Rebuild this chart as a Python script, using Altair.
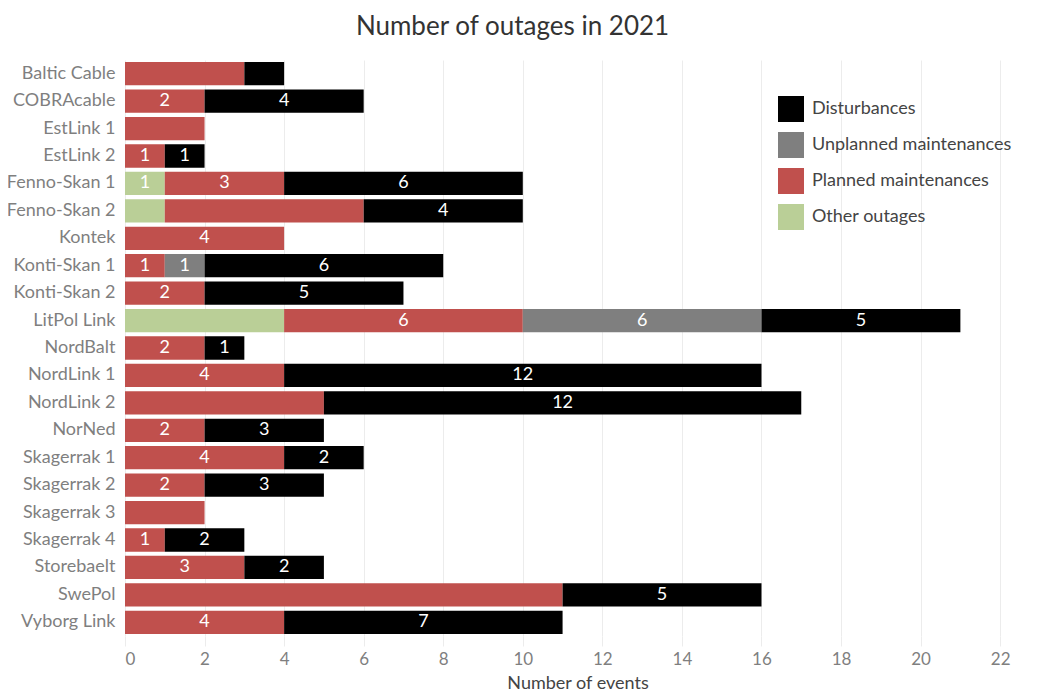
import altair as alt
import pandas as pd

categories = ["Baltic Cable", "COBRAcable", "EstLink 1", "EstLink 2", "Fenno-Skan 1",
              "Fenno-Skan 2", "Kontek", "Konti-Skan 1", "Konti-Skan 2", "LitPol Link",
              "NordBalt", "NordLink 1", "NordLink 2", "NorNed", "Skagerrak 1",
              "Skagerrak 2", "Skagerrak 3", "Skagerrak 4", "Storebaelt", "SwePol",
              "Vyborg Link"]

# stacking order: Other outages, Planned, Unplanned, Disturbances
other_outages = [0, 0, 0, 0, 1, 1, 0, 0, 0, 4, 0, 0, 0, 0, 0, 0, 0, 0, 0, 0, 0]
planned =       [3, 2, 2, 1, 3, 5, 4, 1, 2, 6, 2, 4, 5, 2, 4, 2, 2, 1, 3, 11, 4]
unplanned =     [0, 0, 0, 0, 0, 0, 0, 1, 0, 6, 0, 0, 0, 0, 0, 0, 0, 0, 0, 0, 0]
disturbances =  [1, 4, 0, 1, 6, 4, 0, 6, 5, 5, 1, 12, 12, 3, 2, 3, 0, 2, 2, 5, 7]

# whether the value label is printed inside the segment
other_lbl =     [0, 0, 0, 0, 1, 0, 0, 0, 0, 0, 0, 0, 0, 0, 0, 0, 0, 0, 0, 0, 0]
planned_lbl =   [0, 1, 0, 1, 1, 0, 1, 1, 1, 1, 1, 1, 0, 1, 1, 1, 0, 1, 1, 0, 1]
unplanned_lbl = [0, 0, 0, 0, 0, 0, 0, 1, 0, 1, 0, 0, 0, 0, 0, 0, 0, 0, 0, 0, 0]
disturb_lbl =   [0, 1, 0, 1, 1, 1, 0, 1, 1, 1, 1, 1, 1, 1, 1, 1, 0, 1, 1, 1, 1]

series_names = ["Other outages", "Planned maintenances", "Unplanned maintenances", "Disturbances"]
series_vals = [other_outages, planned, unplanned, disturbances]
series_lbls = [other_lbl, planned_lbl, unplanned_lbl, disturb_lbl]

legend_order = ["Disturbances", "Unplanned maintenances", "Planned maintenances", "Other outages"]
legend_colors = ["#000000", "#7f7f7f", "#c0504d", "#bacf97"]

x_ticks = [0, 2, 4, 6, 8, 10, 12, 14, 16, 18, 20, 22]

rows = []
for si, (name, vals, lbls) in enumerate(zip(series_names, series_vals, series_lbls)):
    for c, v, l in zip(categories, vals, lbls):
        rows.append({"category": c, "series": name, "value": v, "order": si, "show": l})
df = pd.DataFrame(rows)

FONT = "Lato"

base = alt.Chart(df).transform_stack(
    stack="value", groupby=["category"], as_=["x0", "x1"],
    sort=[alt.SortField(field="order", order="ascending")]
).transform_calculate(mid="(datum.x0 + datum.x1) / 2")

y_enc = alt.Y("category:N", sort=categories, title=None,
              scale=alt.Scale(paddingInner=0.15, paddingOuter=0.075),
              axis=alt.Axis(domain=False, ticks=False, labelPadding=10, labelFontSize=18,
                            labelColor="#7f7f7f", labelFont=FONT, labelLimit=200))

bars = base.transform_filter("datum.value > 0").mark_bar().encode(
    x=alt.X("x0:Q", title="Number of events",
            scale=alt.Scale(domain=[0, 22.75], nice=False),
            axis=alt.Axis(values=x_ticks, grid=True, gridColor="#ececec", domain=False,
                          tickColor="#ececec", tickSize=10, labelPadding=5,
                          labelFontSize=17, labelColor="#7f7f7f", labelFont=FONT,
                          titleFontSize=18, titleColor="#444444", titleFont=FONT,
                          titleFontWeight="normal", titlePadding=7)),
    x2="x1:Q",
    y=y_enc,
    color=alt.Color("series:N",
                    scale=alt.Scale(domain=legend_order, range=legend_colors),
                    legend=alt.Legend(title=None, orient="none", legendX=653, legendY=36,
                                      symbolType="square", symbolSize=676,
                                      symbolStrokeWidth=0, symbolOpacity=1,
                                      labelFontSize=18, labelColor="#444444", labelFont=FONT,
                                      labelLimit=400, rowPadding=10, labelOffset=8)),
)

labels = base.transform_filter("datum.show == 1").mark_text(
    color="white", fontSize=18, font=FONT, baseline="middle", align="center"
).encode(
    x=alt.X("mid:Q"),
    y=alt.Y("category:N", sort=categories),
    text=alt.Text("value:Q"),
)

chart = alt.layer(bars, labels).properties(
    width=905, height=576,
    title=alt.Title("Number of outages in 2021", fontSize=26, color="#333333",
                    font=FONT, fontWeight="normal", anchor="middle", offset=20, dx=-65),
    autosize=alt.AutoSizeParams(type="none"),
    padding={"left": 117, "top": 52, "right": 0, "bottom": 58},
).configure_view(stroke=None)

chart.save("out.html", embed_options={"renderer": "svg", "actions": False})
